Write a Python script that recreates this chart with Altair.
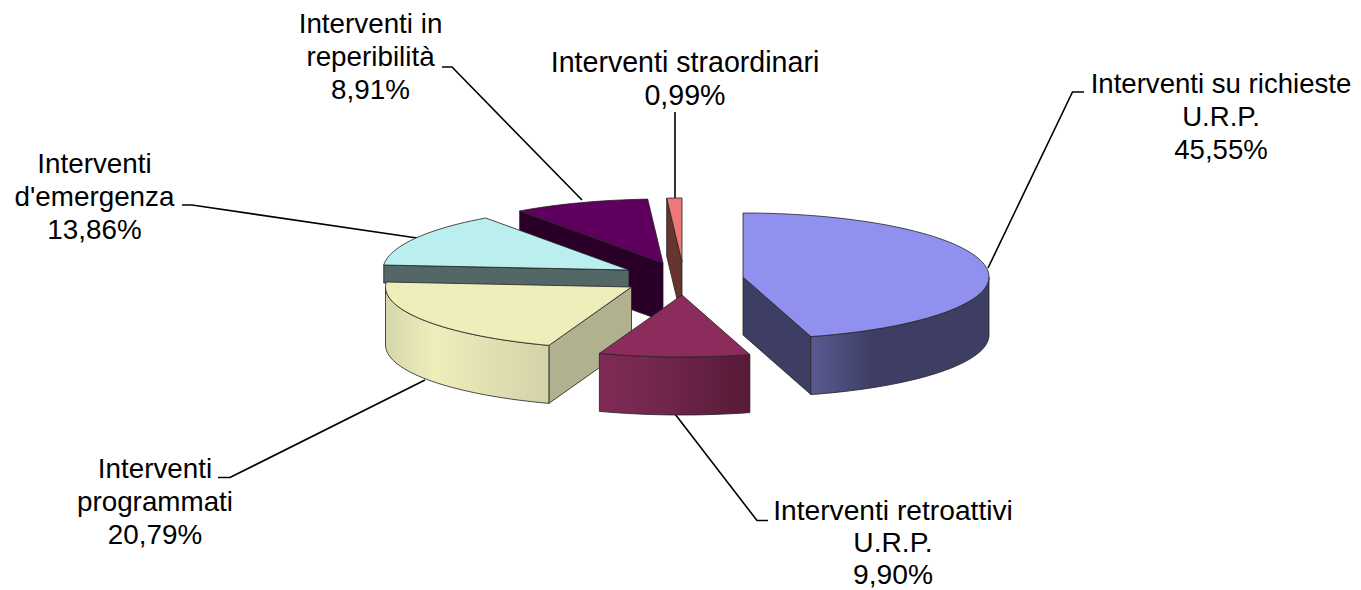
import math
import altair as alt
import pandas as pd

# --- values
names = ["Interventi su richieste U.R.P.", "Interventi retroattivi U.R.P.", "Interventi programmati",
         "Interventi d'emergenza", "Interventi in reperibilità", "Interventi straordinari"]
shares = [45.55, 9.90, 20.79, 13.86, 8.91, 0.99]
label_lines = [["Interventi su richieste", "U.R.P.", "45,55%"],
               ["Interventi retroattivi", "U.R.P.", "9,90%"],
               ["Interventi", "programmati", "20,79%"],
               ["Interventi", "d'emergenza", "13,86%"],
               ["Interventi in", "reperibilità", "8,91%"],
               ["Interventi straordinari", "0,99%"]]

# --- layout and style (pixel space of the picture)
W, H = 1361, 590
apex = [(743, 277), (682, 295), (631.5, 287), (629, 270), (663, 263), (682, 262)]
RX, RY_BACK, RY_FRONT, DEPTH = 246, 64, 62, 58
depths = [DEPTH, DEPTH, DEPTH, 18, DEPTH, DEPTH]
label_x = [1221, 893, 155, 94.5, 370.5, 685]
label_base = [92.7, 520, 478, 172.7, 33, 71.7]
line_heights = [32.9, 31.9, 32.9, 32.9, 32.9, 32.9]
font_sizes = [27.6, 28.2, 27.8, 27.8, 27.8, 28.6]
leaders = [[(988, 268), (1072.5, 92), (1084, 92)],
           [(675, 414), (757, 520.5), (768, 520.5)],
           [(425, 380), (230, 477.5), (218, 477.5)],
           [(417, 238), (192, 205), (182, 205)],
           [(582, 200), (452, 67), (442, 67)],
           [(675, 199), (675, 112)]]
top_col = ["#9090EE", "#8B2C5C", "#EEEEBB", "#BBEEEE", "#5F005F", "#EF7777"]
cut_col = ["#3E3E64", "#561A38", "#B1B18F", "#536767", "#2A0029", "#67342F"]
wall_stops = {0: [(0, "#5A5A92"), (0.35, "#3E3E64"), (1, "#3E3E64")],
              1: [(0, "#7F2A55"), (0.35, "#74274E"), (1, "#561A38")],
              2: [(0, "#D6D6AC"), (0.3, "#EEEEBB"), (1, "#D2D2A8")]}
EDGE = "#222222"

x_scale = alt.Scale(domain=[8, W - 8], range=[0, W - 16], nice=False, zero=False)
y_scale = alt.Scale(domain=[H, 8], range=[H - 8, 0], nice=False, zero=False)


def pt(i, deg, drop=0):
    a = math.radians(deg)
    c = math.cos(a)
    ry = RY_BACK if c > 0 else RY_FRONT
    return (apex[i][0] + RX * math.sin(a), apex[i][1] - ry * c + drop)


def arc(i, a, b, drop=0):
    n = max(2, int(abs(b - a) / 2))
    return [pt(i, a + (b - a) * k / n, drop) for k in range(n + 1)]


def poly(points, fill, width=0.8, stroke=EDGE):
    closed = list(points) + [points[0]]
    df = pd.DataFrame({"px": [p[0] for p in closed], "py": [p[1] for p in closed],
                       "seq": list(range(len(closed)))})
    return alt.Chart(df).mark_line(fill=fill, stroke=stroke, strokeWidth=width, interpolate="linear").encode(
        x=alt.X("px:Q", scale=x_scale, axis=None),
        y=alt.Y("py:Q", scale=y_scale, axis=None),
        order="seq:Q")


def gradient(stops):
    return alt.LinearGradient(gradient="linear", x1=0, x2=1, y1=0, y2=0,
                              stops=[alt.GradientStop(offset=o, color=c) for o, c in stops])


# slice angles, clockwise from the top, from the shares
total = sum(shares)
starts, ends = [], []
acc = 0
for s in shares:
    starts.append(acc / total * 360)
    acc += s
    ends.append(acc / total * 360)

layers = []
for seg in leaders:
    df = pd.DataFrame({"px": [p[0] for p in seg], "py": [p[1] for p in seg], "seq": list(range(len(seg)))})
    layers.append(alt.Chart(df).mark_line(color="#000000", strokeWidth=1.6).encode(
        x=alt.X("px:Q", scale=x_scale, axis=None),
        y=alt.Y("py:Q", scale=y_scale, axis=None),
        order="seq:Q"))

# painter's order: back slices first
for i, cut_at_end in [(4, False), (5, False), (3, False), (2, False), (0, True), (1, None)]:
    a, b = starts[i], ends[i]
    ap = apex[i]
    if cut_at_end is not None:
        edge_deg = b if cut_at_end else a
        e = pt(i, edge_deg)
        d = depths[i]
        layers.append(poly([ap, e, (e[0], e[1] + d), (ap[0], ap[1] + d)], cut_col[i]))
    if i in wall_stops:
        wa, wb = max(a, 90), min(b, 270)
        top = arc(i, wa, wb)
        bottom = arc(i, wb, wa, DEPTH)
        layers.append(poly(top + bottom, gradient(wall_stops[i])))
    layers.append(poly([ap] + arc(i, a, b), top_col[i]))

for i, lines in enumerate(label_lines):
    rows = [{"px": label_x[i], "py": label_base[i] + k * line_heights[i], "t": t} for k, t in enumerate(lines)]
    layers.append(alt.Chart(pd.DataFrame(rows)).mark_text(
        font="Liberation Sans", fontSize=font_sizes[i], color="#000000", align="center", baseline="alphabetic"
    ).encode(
        x=alt.X("px:Q", scale=x_scale, axis=None),
        y=alt.Y("py:Q", scale=y_scale, axis=None),
        text="t:N"))

chart = alt.layer(*layers).properties(
    width=W - 16, height=H - 8, padding=0, autosize=alt.AutoSizeParams(type="none"), background="white"
).configure_view(stroke=None)

chart.save("out.html", embed_options={"renderer": "svg", "actions": False})
